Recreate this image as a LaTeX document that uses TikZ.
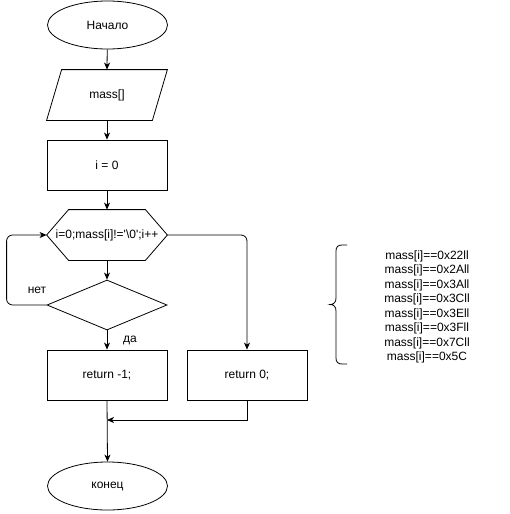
\documentclass[tikz,border=0pt]{standalone}
\usepackage{fontspec}
\setmainfont{Liberation Sans}[Ligatures=TeXOff]
\usetikzlibrary{arrows.meta,shapes.geometric}
\begin{document}
\begin{tikzpicture}[x=1pt,y=-1pt,line width=0.8pt,
  every node/.style={font=\fontsize{12}{14.5}\selectfont},
  box/.style={draw,rectangle,minimum width=120pt,minimum height=50pt,inner sep=0pt},
  term/.style={draw,ellipse,minimum width=120pt,minimum height=48pt,inner sep=0pt},
  dia/.style={draw,diamond,minimum width=120pt,minimum height=50pt,inner sep=0pt},
  ghost/.style={rectangle,minimum width=105pt,minimum height=50pt,inner sep=0pt},
  hexg/.style={rectangle,minimum width=120pt,minimum height=50pt,inner sep=0pt},
  arr/.style={-{Stealth[length=7pt,width=6pt,inset=2pt]}},
  lbl/.style={inner sep=0pt}]
\useasboundingbox (0,0) rectangle (509,514);
\node[term] (start) at (107.5,25) {Начало};
\node[ghost] (in) at (107,95) {mass[]};
\draw ([xshift=-7.5pt]in.south west) -- ([xshift=7.5pt]in.north west) -- ([xshift=7.5pt]in.north east) -- ([xshift=-7.5pt]in.south east) -- cycle;
\node[box] (init) at (107,165) {i = 0};
\node[hexg] (hex) at (107,235) {i=0;mass[i]!='\textbackslash0';i++};
\draw (hex.west) -- ([xshift=22pt]hex.north west) -- ([xshift=-22pt]hex.north east) -- (hex.east) -- ([xshift=-22pt]hex.south east) -- ([xshift=22pt]hex.south west) -- cycle;
\node[dia] (dec) at (107,305) {};
\node[box] (r1) at (107,375) {return -1;};
\node[box] (r0) at (247,375) {return 0;};
\node[term] (end) at (107.5,486) {конец};
\coordinate (m) at (107,420);
\node[lbl] (net) at (37,290) {нет};
\node[lbl] (da) at (130,340) {да};
\draw[arr] (start) -- (in.north);
\draw[arr] (in.south) -- (init);
\draw[arr] (init) -- (hex.north);
\draw[arr] (hex.south) -- (dec);
\draw[arr,rounded corners=6pt] (dec.west) -- ++(-40,0) |- (hex.west);
\draw[arr,rounded corners=6pt] (hex.east) -| (r0.north);
\draw[arr] (dec.south) -- (r1.north);
\draw[arr] (r1.south) -- (end.north);
\draw[arr] (r0.south) |- (m);
\draw (347,245) -- (342,245) .. controls (338,245) and (336,247) .. (336,251)
  -- (336,298) .. controls (336,302) and (334,304.5) .. (330,304.5)
  .. controls (334,304.5) and (336,307) .. (336,311)
  -- (336,358) .. controls (336,362) and (338,364) .. (342,364) -- (347,364);
\node[align=center,inner sep=0pt] (list) at (427,307) {mass[i]==0x22ll\\mass[i]==0x2All\\mass[i]==0x3All\\mass[i]==0x3Cll\\mass[i]==0x3Ell\\mass[i]==0x3Fll\\mass[i]==0x7Cll\\mass[i]==0x5C};
\end{tikzpicture}
\end{document}
